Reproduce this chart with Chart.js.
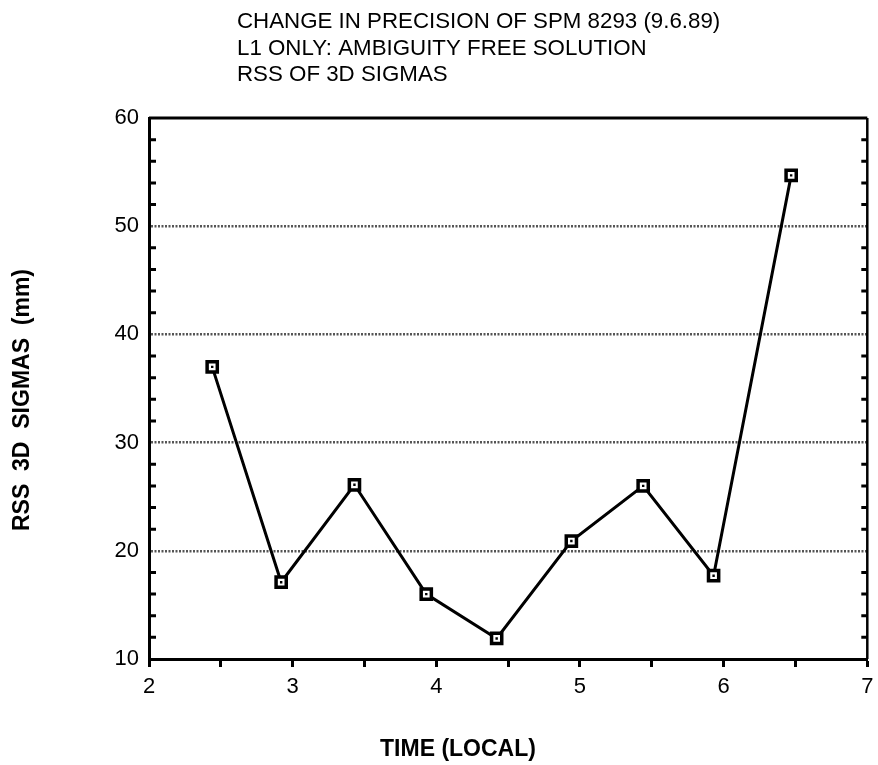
<!DOCTYPE html>
<html>
<head>
<meta charset="utf-8">
<script src="https://cdn.jsdelivr.net/npm/chart.js@4/dist/chart.umd.min.js"></script>
<style>
  body { margin: 0; background: #fff; }
  #wrap { width: 878px; height: 765px; }
</style>
</head>
<body>
<div id="wrap"><canvas id="precChart" width="878" height="765"></canvas></div>
<script>
// values
const timeLocal = [2.44, 2.92, 3.43, 3.93, 4.42, 4.94, 5.44, 5.93, 6.47];
const rssSigmas = [37.0, 17.1, 26.1, 16.0, 11.9, 20.9, 26.0, 17.7, 54.7];
const xTicks = [2, 3, 4, 5, 6, 7];
const yTicks = [10, 20, 30, 40, 50, 60];
const titleLines = [
    "CHANGE IN PRECISION OF SPM 8293 (9.6.89)",
    "L1 ONLY: AMBIGUITY FREE SOLUTION",
    "RSS OF 3D SIGMAS"
];
const xTitle = "TIME (LOCAL)";
const yTitle = "RSS  3D  SIGMAS  (mm)";

const points = timeLocal.map((t, i) => ({x: t, y: rssSigmas[i]}));
const FONT = "'Liberation Sans', Arial, sans-serif";

// frame, inner minor ticks and the free text
const extras = {
    id: "extras",
    beforeDatasetsDraw(chart) {
        const {ctx, chartArea: a, scales: {y}} = chart;
        ctx.save();
        ctx.strokeStyle = "#000";
        ctx.lineWidth = 3;
        ctx.beginPath();
        ctx.moveTo(a.left, a.top);
        ctx.lineTo(a.right, a.top);
        ctx.stroke();
        ctx.lineWidth = 2.5;
        ctx.beginPath();
        ctx.moveTo(a.right, a.top);
        ctx.lineTo(a.right, a.bottom);
        ctx.stroke();
        // minor ticks every 2 mm pointing inward
        ctx.lineWidth = 3;
        for (let v = y.min + 2; v < y.max; v += 2) {
            if (v % 10 === 0) continue;
            const py = y.getPixelForValue(v);
            ctx.beginPath();
            ctx.moveTo(a.left, py);
            ctx.lineTo(a.left + 7, py);
            ctx.moveTo(a.right, py);
            ctx.lineTo(a.right - 6, py);
            ctx.stroke();
        }
        ctx.restore();
    },
    afterDraw(chart) {
        const ctx = chart.ctx;
        ctx.save();
        ctx.fillStyle = "#000";
        ctx.textAlign = "left";
        ctx.textBaseline = "alphabetic";
        ctx.font = "22.3px " + FONT;
        titleLines.forEach((t, i) => ctx.fillText(t, 237, 28 + i * 26.5));
        ctx.font = "bold 23px " + FONT;
        ctx.textAlign = "center";
        ctx.fillText(xTitle, 458, 756);
        ctx.translate(23, 400);
        ctx.rotate(-Math.PI / 2);
        ctx.textBaseline = "middle";
        ctx.fillText(yTitle, 0, 0);
        ctx.restore();
    }
};

new Chart(document.getElementById("precChart"), {
    type: "scatter",
    data: {
        datasets: [
            {
                label: "dot",
                data: points,
                order: 0,
                showLine: false,
                pointStyle: "rect",
                pointRadius: 1.7,
                pointBorderWidth: 0,
                pointBackgroundColor: "#000"
            },
            {
                label: "RSS",
                data: points,
                order: 1,
                showLine: true,
                borderColor: "#000",
                borderWidth: 3,
                tension: 0,
                pointStyle: "rect",
                pointRadius: 7.2,
                pointBorderWidth: 3.5,
                pointBorderColor: "#000",
                pointBackgroundColor: "#fff"
            }
        ]
    },
    options: {
        responsive: false,
        animation: false,
        layout: {padding: {left: 0, right: 6, top: 118, bottom: 0}},
        plugins: {legend: {display: false}, tooltip: {enabled: false}},
        scales: {
            x: {
                type: "linear",
                min: 2,
                max: 7,
                afterFit: s => { s.height = 106; s.paddingLeft = 0; s.paddingRight = 0; },
                afterBuildTicks: s => {
                    const t = [];
                    for (let v = s.min; v <= s.max + 1e-9; v += 0.5) t.push({value: v});
                    s.ticks = t;
                },
                ticks: {
                    autoSkip: false,
                    maxRotation: 0,
                    padding: 7,
                    color: "#000",
                    font: {family: FONT, size: 22},
                    callback: v => xTicks.includes(v) ? String(v) : ""
                },
                grid: {
                    drawOnChartArea: false,
                    drawTicks: true,
                    tickLength: 8,
                    tickWidth: 3,
                    tickColor: "#000"
                },
                border: {display: true, color: "#000", width: 3}
            },
            y: {
                min: 10,
                max: 60,
                afterFit: s => { s.width = 149; s.paddingTop = 0; s.paddingBottom = 0; },
                afterBuildTicks: s => { s.ticks = yTicks.map(v => ({value: v})); },
                ticks: {
                    padding: 10,
                    color: "#000",
                    font: {family: FONT, size: 22}
                },
                grid: {
                    drawTicks: false,
                    lineWidth: 2.5,
                    color: c => (c.tick && (c.tick.value === 10 || c.tick.value === 60)) ? "rgba(0,0,0,0)" : "#555"
                },
                border: {display: true, color: "#000", width: 3, dash: [2, 1.5]}
            }
        }
    },
    plugins: [extras]
});
</script>
</body>
</html>
